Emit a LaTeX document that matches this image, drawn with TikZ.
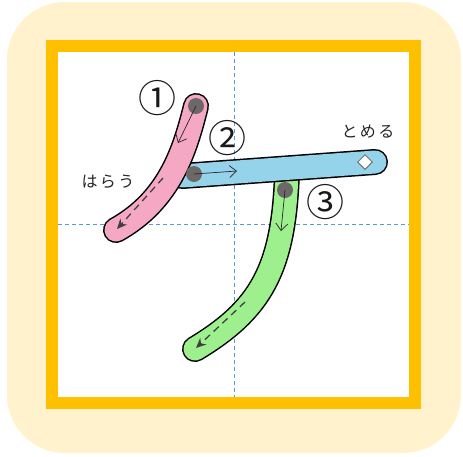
\documentclass[tikz,border=0pt]{standalone}
\usepackage{fontspec}
\newfontfamily\jpfont{Noto Sans CJK JP}
\newfontfamily\jpnote[LetterSpace=15]{Noto Sans CJK JP}
\usetikzlibrary{arrows.meta,shapes.geometric,positioning}
\definecolor{bgyellow}{HTML}{FFF2CC}
\definecolor{frameorange}{HTML}{FFC000}
\definecolor{guideblue}{HTML}{5B9BD5}
\definecolor{strokepink}{HTML}{F5A8C4}
\definecolor{strokeblue}{HTML}{95D3EA}
\definecolor{strokegreen}{HTML}{9EF08E}
\definecolor{dotgray}{HTML}{6D6868}

\begin{document}
\begin{tikzpicture}[
    x=1pt, y=-1pt,
    inkstroke/.style={draw=#1, line width=23pt, line cap=round,
        preaction={draw=black, line width=26pt, line cap=round}},
    startdot/.style={circle, fill=dotgray, minimum size=16pt, inner sep=0pt},
    dirarrow/.style={-{Straight Barb[length=7pt,width=12pt]}, line width=0.7pt, black!85},
    sweeparrow/.style={dash pattern=on 7pt off 5pt, line width=1.3pt, draw=black!75, -{Stealth[length=10pt,width=9pt]}},
    guide/.style={guideblue, line width=0.9pt, dash pattern=on 4pt off 3pt},
    strokeno/.style={font=\jpfont\fontsize{38}{38}\selectfont, inner sep=0pt, text=black!90},
    note/.style={font=\jpnote\fontsize{16}{16}\selectfont, inner sep=0pt, text=black!85}
]
\useasboundingbox (0,0) rectangle (463,456);

% card and writing frame
\fill[bgyellow, rounded corners=58pt] (7,2) rectangle (461,453);
\draw[frameorange, line width=12pt, fill=white] (52,46) rectangle (415,403);
\draw[guide] (234,52) -- (234,397);
\draw[guide] (58,224) -- (409,224);

% stroke points
\coordinate (s1) at (196,106);
\coordinate (e1) at (116,230);
\coordinate (s2) at (182,176);
\coordinate (e2) at (375,162);
\coordinate (s3) at (287,172);
\coordinate (e3) at (195,349);

% strokes (3 under 2 under 1)
\draw[inkstroke=strokegreen] (s3) .. controls (284,270) and (260,310) .. (e3);
\draw[inkstroke=strokeblue] (s2) -- (e2);
\draw[inkstroke=strokepink] (s1) .. controls (185,150) and (170,200) .. (e1);

% start dots
\node[startdot] (dot1) at (196,106) {};
\node[startdot] (dot2) at (194,174) {};
\node[startdot] (dot3) at (285,190) {};

% direction arrows
\coordinate (dir1) at (178,143);
\coordinate (dir2) at (237,171);
\coordinate (dir3) at (281,231);
\draw[dirarrow] (dot1.center) -- (dir1);
\draw[dirarrow] (dot2.center) -- (dir2);
\draw[dirarrow] (dot3.center) -- (dir3);

\coordinate (sw1a) at (163,178);
\coordinate (sw1b) at (117,229);
\coordinate (sw3a) at (245,302);
\coordinate (sw3b) at (196,348);
\draw[sweeparrow] (sw1a) -- (sw1b);
\draw[sweeparrow] (sw3a) -- (sw3b);

% stop mark
\node[diamond, draw=black!55, fill=white, line width=1pt, minimum size=15pt, inner sep=0pt] (stop) at (365,162) {};

% labels
\node[strokeno] (no1) at (157,98) {①};
\node[strokeno] (no2) at (227,138) {②};
\node[strokeno] (no3) at (325,202) {③};
\node[note] (harau) at (108,182) {はらう};
\node[note] (tomeru) at (368,132) {とめる};

\end{tikzpicture}
\end{document}
